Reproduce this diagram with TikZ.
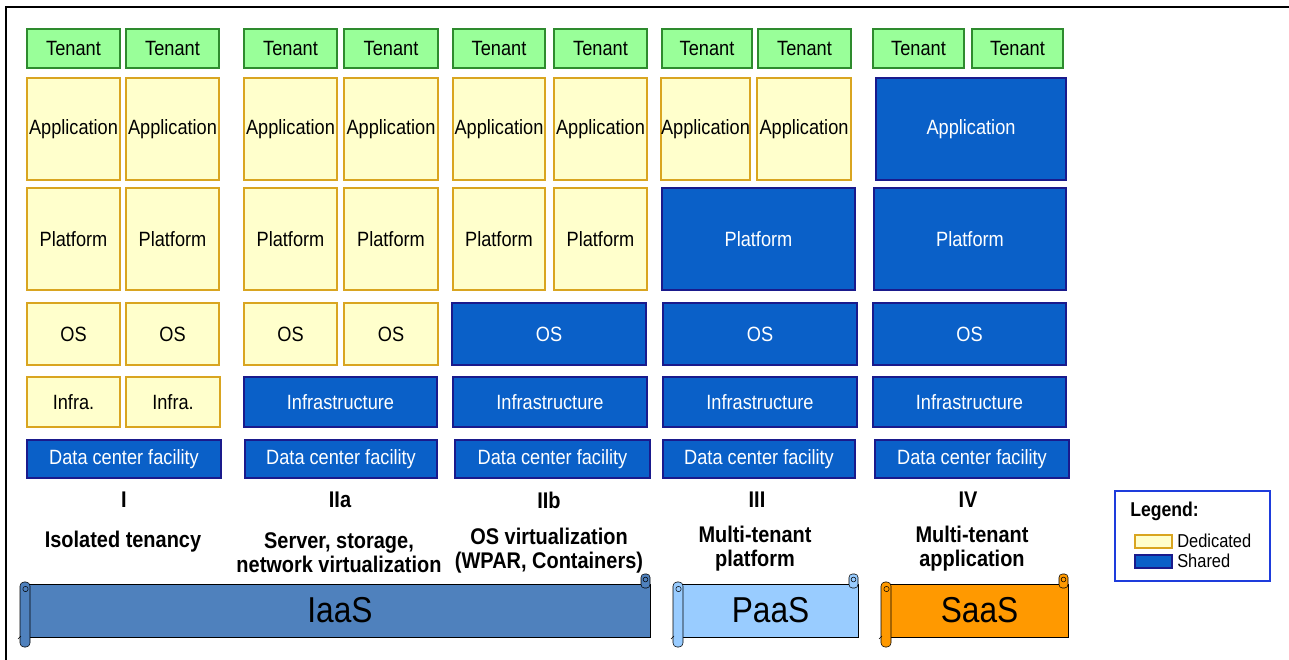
\documentclass[tikz,border=0pt]{standalone}
\usepackage{fontspec}
\setmainfont{Liberation Sans}[FakeStretch=0.88]

\definecolor{dedfill}{HTML}{FFFFCC}
\definecolor{dedline}{HTML}{D9A520}
\definecolor{tenfill}{HTML}{99FF99}
\definecolor{tenline}{HTML}{2E8B2E}
\definecolor{shrfill}{HTML}{0A60C8}
\definecolor{shrline}{HTML}{1A1A8C}
\definecolor{iaasfill}{HTML}{4F81BD}
\definecolor{paasfill}{HTML}{99CCFF}
\definecolor{saasfill}{HTML}{FF9900}
\definecolor{legline}{HTML}{1E3CDC}

% box given by its corners (in px)
\newcommand\layerbox[7]{%
  \node[#6, inner sep=0pt, minimum width={0.75pt*(#4-#2)}, minimum height={0.75pt*(#5-#3)}]
    (#1) at ({(#2+#4)/2},{(#3+#5)/2}) {#7};}
% scroll banner: name, left, right, colour, text
\newcommand\scrollbanner[5]{%
  \draw[fill=#4] ({#2+5},584) rectangle (#3,637);
  \draw[fill=#4, rounded corners=3pt] (#2,582) rectangle ({#2+10},647);
  \draw ({#2+5.5},589) circle (2pt);
  \draw ({#2+1},636) -- ({#2-2},639);
  \draw[fill=#4, rounded corners=2.5pt] ({#3-9},574) rectangle (#3,588);
  \draw ({#3-4.5},579.5) circle (1.8pt);
  \node[font=\fontsize{27}{30}\selectfont] (#1) at ({(#2+#3)/2+5},610) {#5};}

\begin{document}
\begin{tikzpicture}[x=0.75pt, y=-0.75pt,
  ten/.style={draw=tenline, fill=tenfill, line width=1.1pt, font=\fontsize{15.5}{17}\selectfont},
  ded/.style={draw=dedline, fill=dedfill, line width=1.1pt, font=\fontsize{15.5}{17}\selectfont},
  shr/.style={draw=shrline, fill=shrfill, line width=1.1pt, text=white, font=\fontsize{15.5}{17}\selectfont},
  lbl/.style={font=\bfseries\fontsize{17}{18}\selectfont, align=center, inner sep=0pt}]
  \useasboundingbox (0,0) rectangle (1289,660);
  \draw[line width=1.5pt] (6,660) -- (6,7) -- (1289,7);

  % tenants
  \foreach \a/\b [count=\i] in {27/120,126/219,244/337,344/438,453/545,554/647,662/752,758/851,873/964,972/1063}
    \layerbox{ten\i}{\a}{29}{\b}{68}{ten}{Tenant};
  % application
  \foreach \a/\b [count=\i] in {27/120,126/219,244/337,344/438,453/545,554/647,661/750,757/851}
    \layerbox{app\i}{\a}{78}{\b}{180}{ded}{Application};
  \layerbox{appIV}{876}{78}{1066}{180}{shr}{Application};
  % platform
  \foreach \a/\b [count=\i] in {27/120,126/219,244/337,344/438,453/545,554/647}
    \layerbox{plat\i}{\a}{188}{\b}{290}{ded}{Platform};
  \layerbox{platIII}{662}{188}{855}{290}{shr}{Platform};
  \layerbox{platIV}{874}{188}{1066}{290}{shr}{Platform};
  % operating system
  \foreach \a/\b [count=\i] in {27/120,126/219,244/337,344/438}
    \layerbox{os\i}{\a}{303}{\b}{365}{ded}{OS};
  \layerbox{osIIb}{452}{303}{646}{365}{shr}{OS};
  \layerbox{osIII}{663}{303}{857}{365}{shr}{OS};
  \layerbox{osIV}{873}{303}{1066}{365}{shr}{OS};
  % infrastructure
  \foreach \a/\b [count=\i] in {27/120,126/220}
    \layerbox{infra\i}{\a}{377}{\b}{427}{ded}{Infra.};
  \foreach \a/\b/\n in {244/437/IIa,453/647/IIb,663/857/III,873/1066/IV}
    \layerbox{infra\n}{\a}{377}{\b}{427}{shr}{Infrastructure};
  % data center
  \foreach \a/\b/\n in {27/221/I,245/437/IIa,455/650/IIb,663/855/III,875/1069/IV}
    \layerbox{dc\n}{\a}{440}{\b}{478}{shr}{Data center facility};

  % columns
  \foreach \x/\r in {124/I,340/IIa,549/IIb,757/III,968/IV}
    \node[lbl] (num\r) at (\x,500) {\r};
  \node[lbl] (descI) at (123,542) {Isolated tenancy};
  \node[lbl] (descIIa) at (339,553) {Server, storage,\\network virtualization};
  \node[lbl] (descIIb) at (549,550.5) {OS virtualization\\(WPAR, Containers)};
  \node[lbl] (descIII) at (755,549) {Multi-tenant\\platform};
  \node[lbl] (descIV) at (972,549) {Multi-tenant\\application};

  % service models
  \scrollbanner{iaas}{20}{650}{iaasfill}{IaaS}
  \scrollbanner{paas}{673}{858}{paasfill}{PaaS}
  \scrollbanner{saas}{881}{1068}{saasfill}{SaaS}

  % legend
  \layerbox{legend}{1115}{491}{1270}{581}{draw=legline, line width=1.3pt}{};
  \node[anchor=west, inner sep=0pt, font=\bfseries\fontsize{15}{17}\selectfont] (legtitle) at (1130,511) {Legend:};
  \layerbox{legded}{1135}{535}{1172}{548}{ded}{};
  \layerbox{legshr}{1135}{555}{1172}{568}{shr}{};
  \node[anchor=west, inner sep=0pt, font=\fontsize{14}{16}\selectfont] (legdedtext) at (1177,541) {Dedicated};
  \node[anchor=west, inner sep=0pt, font=\fontsize{14}{16}\selectfont] (legshrtext) at (1177,561) {Shared};
\end{tikzpicture}
\end{document}
